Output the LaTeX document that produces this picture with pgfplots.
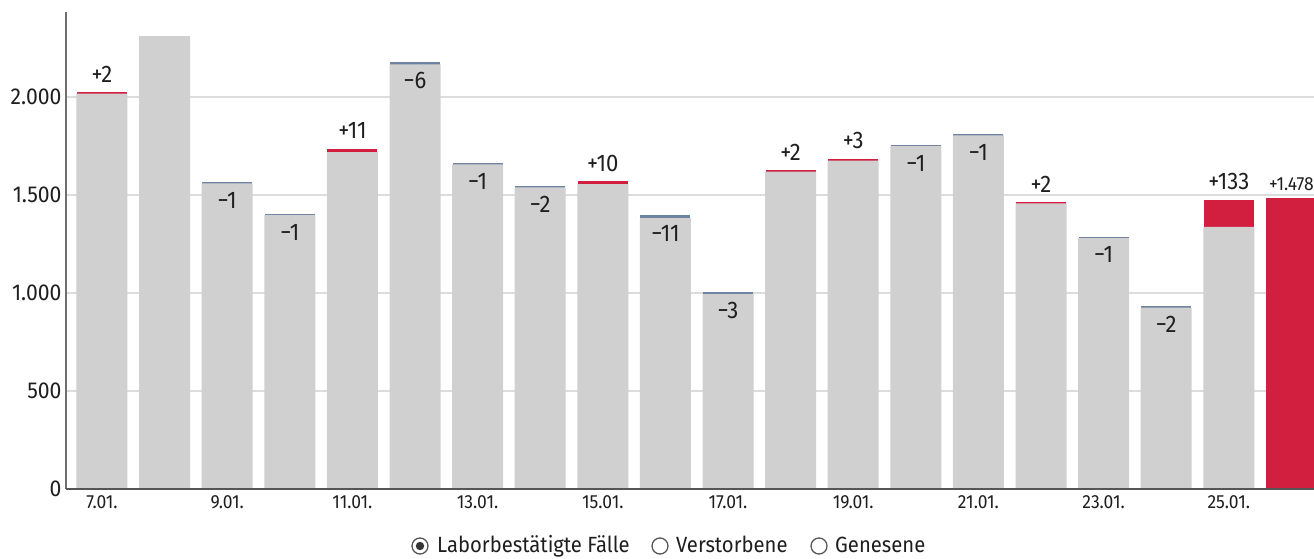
\documentclass[border=0pt]{standalone}
\usepackage{fontspec}
\setmainfont{Fira Sans}[FakeStretch=0.92]
\usepackage{pgfplots}
\usepackage{pgfplotstable}
\pgfplotsset{compat=1.18}

\definecolor{barGray}{HTML}{D0D0D0}
\definecolor{upRed}{HTML}{D21F40}
\definecolor{downBlue}{HTML}{6F84A0}
\definecolor{gridGray}{HTML}{DCDCDC}
\definecolor{axisGray}{HTML}{555555}
\definecolor{txt}{HTML}{1E1E1E}

% gray part of each day (value before the latest change)
\pgfplotstableread{
x y
0 2018
1 2311
2 1560
3 1397
4 1719
5 2167
6 1657
7 1539
8 1556
9 1382
10 995
11 1620
12 1676
13 1749
14 1805
15 1457
16 1280
17 925
18 1337
}\basedata

% days with an increase: total height and change
\pgfplotstableread{
x y lab
0 2020 +2
4 1730 +11
8 1566 +10
11 1622 +2
12 1679 +3
15 1459 +2
18 1470 +133
}\updata

% days with a decrease: total height and change
\pgfplotstableread{
x y lab
2 1561 −1
3 1398 −1
5 2173 −6
6 1658 −1
7 1541 −2
9 1393 −11
10 998 −3
13 1750 −1
14 1806 −1
16 1281 −1
17 927 −2
}\downdata

% newest day, entirely new cases
\pgfplotstableread{
x y lab
19 1478 +1.478
}\newdata

\begin{document}
\begin{tikzpicture}
\begin{axis}[
  name=ax,
  at={(0,0)}, anchor=south west,
  scale only axis,
  width=1248pt, height=477pt,
  xmin=-0.575, xmax=19.361,
  ymin=0, ymax=2434,
  axis x line*=bottom, axis y line*=left,
  x axis line style={draw=none},
  y axis line style={draw=axisGray!85, line width=1.3pt},
  major tick length=0pt,
  ytick={0,500,1000,1500,2000},
  ymajorgrids,
  major grid style={draw=gridGray, line width=1.5pt},
  yticklabel style={/pgf/number format/1000 sep={.}, /pgf/number format/assume math mode=true,
    font=\fontsize{23}{26}\selectfont, text=txt, xshift=-1pt},
  xtick={0,2,4,6,8,10,12,14,16,18},
  xticklabels={7.01.,9.01.,11.01.,13.01.,15.01.,17.01.,19.01.,21.01.,23.01.,25.01.},
  xticklabel style={font=\fontsize{19}{22}\selectfont, text=txt, yshift=-3pt},
]
% change segments: full height with an outline so that small changes stay visible
\addplot[ybar, bar width=47.6pt, bar shift=0pt, fill=upRed, draw=upRed, line width=2.4pt]
  table[x=x, y=y] {\updata};
\addplot[ybar, bar width=49pt, bar shift=0pt, fill=upRed, draw=upRed, line width=2pt]
  table[x=x, y=y] {\newdata};
\addplot[ybar, bar width=47.6pt, bar shift=0pt, fill=downBlue, draw=downBlue, line width=2.4pt]
  table[x=x, y=y] {\downdata};
% gray base bars drawn over them
\addplot[ybar, bar width=51pt, bar shift=0pt, fill=barGray, draw=none]
  table[x=x, y=y] {\basedata};
% change labels
\addplot[draw=none, mark=none, nodes near coords, point meta=explicit symbolic,
  nodes near coords style={anchor=base, inner sep=0pt, yshift=11pt,
    font=\fontsize{24}{27}\selectfont, text=txt}]
  table[x=x, y=y, meta=lab] {\updata};
\addplot[draw=none, mark=none, nodes near coords, point meta=explicit symbolic,
  nodes near coords style={anchor=base, inner sep=0pt, yshift=-25pt,
    font=\fontsize{24}{27}\selectfont, text=txt}]
  table[x=x, y=y, meta=lab] {\downdata};
\addplot[draw=none, mark=none, nodes near coords, point meta=explicit symbolic,
  nodes near coords style={anchor=base, inner sep=0pt, yshift=9pt,
    font=\fontsize{19}{22}\selectfont, text=txt}]
  table[x=x, y=y, meta=lab] {\newdata};
% baseline over the bar feet
\draw[axisGray, line width=2pt] (rel axis cs:0,0) -- (rel axis cs:1,0);
\end{axis}

% series selector
\begin{scope}[shift={(ax.south west)}]
  \draw[axisGray, line width=1.3pt] (354pt,-57pt) circle[radius=8pt];
  \fill[txt!90] (354pt,-57pt) circle[radius=4.2pt];
  \node[anchor=base west, inner sep=0pt, text=txt, font=\fontsize{22}{26}\selectfont]
    at (371pt,-63pt) {Laborbestätigte Fälle};
  \draw[axisGray, line width=1.3pt] (594pt,-57pt) circle[radius=8pt];
  \node[anchor=base west, inner sep=0pt, text=txt, font=\fontsize{22}{26}\selectfont]
    at (610pt,-63pt) {Verstorbene};
  \draw[axisGray, line width=1.3pt] (753pt,-57pt) circle[radius=8pt];
  \node[anchor=base west, inner sep=0pt, text=txt, font=\fontsize{22}{26}\selectfont]
    at (769pt,-63pt) {Genesene};
\end{scope}

\pgfresetboundingbox
\path[use as bounding box] ([shift={(-66pt,-69pt)}]ax.south west) rectangle ([shift={(0pt,12pt)}]ax.north east);
\end{tikzpicture}
\end{document}
